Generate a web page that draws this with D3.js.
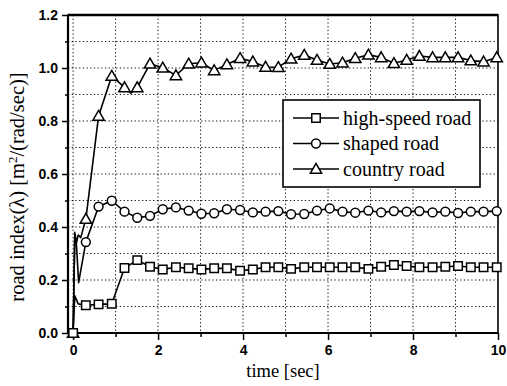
<!DOCTYPE html>
<html><head><meta charset="utf-8">
<script src="https://cdn.jsdelivr.net/npm/d3@7/dist/d3.min.js"></script>
<style>body{margin:0;background:#fff}svg{display:block}</style>
</head><body><svg id="chart" width="507" height="386"></svg>
<script>
// ---- data ----
const markerTime = [0, 0.3, 0.6, 0.91, 1.21, 1.51, 1.81, 2.11, 2.42, 2.72, 3.02, 3.32, 3.62, 3.93, 4.23, 4.53, 4.83,
  5.13, 5.44, 5.74, 6.04, 6.34, 6.64, 6.95, 7.25, 7.55, 7.85, 8.15, 8.46, 8.76, 9.06, 9.36, 9.66, 9.97];
const highSpeedRoad = [0, 0.105, 0.108, 0.11, 0.245, 0.275, 0.25, 0.24, 0.248, 0.244, 0.24, 0.244, 0.244, 0.235, 0.24, 0.248, 0.248,
  0.242, 0.248, 0.248, 0.248, 0.248, 0.248, 0.242, 0.25, 0.257, 0.253, 0.248, 0.248, 0.25, 0.253, 0.248, 0.248, 0.248];
const shapedRoad = [0, 0.343, 0.477, 0.499, 0.458, 0.435, 0.442, 0.467, 0.474, 0.462, 0.45, 0.452, 0.467, 0.464, 0.455, 0.458, 0.46,
  0.448, 0.449, 0.462, 0.47, 0.458, 0.454, 0.462, 0.455, 0.46, 0.458, 0.46, 0.455, 0.458, 0.453, 0.458, 0.458, 0.46];
const countryRoad = [0, 0.43, 0.819, 0.97, 0.927, 0.927, 1.016, 1.001, 0.972, 1.016, 1.02, 0.991, 1.013, 1.037, 1.024, 1.004, 1.003,
  1.035, 1.049, 1.03, 1.015, 1.02, 1.037, 1.05, 1.04, 1.018, 1.03, 1.045, 1.04, 1.04, 1.04, 1.028, 1.024, 1.04];
// extra line-only samples (transients between markers)
const highSpeedExtraTime = [0.04, 0.12];
const highSpeedExtraValue = [0.14, 0.11];
const shapedExtraTime = [0.04, 0.08, 0.13];
const shapedExtraValue = [0.37, 0.33, 0.19];
const countryExtraTime = [0.04, 0.08, 0.12, 0.18, 1.36];
const countryExtraValue = [0.38, 0.34, 0.37, 0.36, 0.905];

const seriesNames = ["high-speed road", "shaped road", "country road"];
const seriesSymbols = ["square", "circle", "triangle"];
const xTickValues = [0, 2, 4, 6, 8, 10];
const xMinorTicks = [1, 3, 5, 7, 9];
const yTickValues = [0, 0.2, 0.4, 0.6, 0.8, 1.0, 1.2];
const yMinorTicks = [0.1, 0.3, 0.5, 0.7, 0.9, 1.1];
const xGrid = [1, 2, 3, 4, 5, 6, 7, 8, 9];
const yGrid = [0.1, 0.2, 0.3, 0.4, 0.5, 0.6, 0.7, 0.8, 0.9, 1.0, 1.1];

// ---- layout ----
const L = 68, R = 498, T = 15, B = 333;
const svg = d3.select("#chart");
const x = d3.scaleLinear().domain([-0.12, 10]).range([L, R]);
const y = d3.scaleLinear().domain([0, 1.2]).range([B, T]);

// grid
const grid = svg.append("g").attr("stroke", "#111").attr("stroke-width", 1).attr("stroke-dasharray", "1.3,2.4");
grid.selectAll("line.gx").data(xGrid).join("line")
  .attr("x1", d => x(d)).attr("x2", d => x(d)).attr("y1", T).attr("y2", B);
grid.selectAll("line.gy").data(yGrid).join("line")
  .attr("y1", d => y(d)).attr("y2", d => y(d)).attr("x1", L).attr("x2", R);
grid.append("line").attr("x1", x(0)).attr("x2", x(0)).attr("y1", T).attr("y2", B);

// axes
const fmt = d3.format(".1f");
svg.append("g").attr("transform", `translate(${L},0)`)
  .call(d3.axisLeft(y).tickValues(yTickValues).tickFormat(fmt).tickSize(6).tickPadding(4));
svg.append("g").attr("transform", `translate(${L},0)`)
  .call(d3.axisLeft(y).tickValues(yMinorTicks).tickFormat("").tickSize(3)).select(".domain").remove();
svg.append("g").attr("transform", `translate(0,${B})`)
  .call(d3.axisBottom(x).tickValues(xTickValues).tickFormat(d3.format("d")).tickSize(7).tickPadding(5));
svg.append("g").attr("transform", `translate(0,${B})`)
  .call(d3.axisBottom(x).tickValues(xMinorTicks).tickFormat("").tickSize(4)).select(".domain").remove();
svg.selectAll(".tick line").attr("stroke", "#000").attr("stroke-width", 1.5);
svg.selectAll(".domain").remove();
svg.selectAll(".tick text").attr("font-family", "'Liberation Sans', Arial, sans-serif")
  .attr("font-size", 14).attr("font-weight", "bold").attr("fill", "#000");

// frame
svg.append("rect").attr("x", L).attr("y", T).attr("width", R - L).attr("height", B - T)
  .attr("fill", "none").attr("stroke", "#000").attr("stroke-width", 1.6);
svg.append("line").attr("x1", L).attr("x2", R).attr("y1", T).attr("y2", T).attr("stroke", "#000").attr("stroke-width", 2.4);
svg.append("line").attr("x1", L).attr("x2", L).attr("y1", T).attr("y2", B).attr("stroke", "#000").attr("stroke-width", 2.2);
svg.append("line").attr("x1", L).attr("x2", R).attr("y1", B).attr("y2", B).attr("stroke", "#000").attr("stroke-width", 2.2);

// series
function build(vals, et, ev) {
  const pts = markerTime.map((t, i) => ({t, v: vals[i], m: true}));
  et.forEach((t, i) => pts.push({t, v: ev[i], m: false}));
  pts.sort((a, b) => a.t - b.t);
  return pts;
}
const series = [
  {name: seriesNames[0], sym: seriesSymbols[0], pts: build(highSpeedRoad, highSpeedExtraTime, highSpeedExtraValue)},
  {name: seriesNames[1], sym: seriesSymbols[1], pts: build(shapedRoad, shapedExtraTime, shapedExtraValue)},
  {name: seriesNames[2], sym: seriesSymbols[2], pts: build(countryRoad, countryExtraTime, countryExtraValue)}
];
const symGen = {
  square: d3.symbol().type(d3.symbolSquare).size(72),
  circle: d3.symbol().type(d3.symbolCircle).size(62),
  triangle: d3.symbol().type(d3.symbolTriangle).size(56)
};
const line = d3.line().x(d => x(d.t)).y(d => y(d.v));
const plot = svg.append("g");
series.slice().reverse().forEach(s => {
  const g = plot.append("g");
  g.append("path").attr("d", line(s.pts)).attr("fill", "none").attr("stroke", "#000").attr("stroke-width", 1.6)
    .attr("stroke-linejoin", "round");
  g.selectAll("path.m").data(s.pts.filter(p => p.m)).join("path").attr("class", "m")
    .attr("d", symGen[s.sym]())
    .attr("transform", p => `translate(${x(p.t)},${y(p.v) + (s.sym === "triangle" ? 1 : 0)})`)
    .attr("fill", "#fff").attr("stroke", "#000").attr("stroke-width", 1.5);
});

// legend
const lg = svg.append("g");
lg.append("rect").attr("x", 283).attr("y", 100).attr("width", 197).attr("height", 87)
  .attr("fill", "#fff").attr("stroke", "#000").attr("stroke-width", 1.6);
const rowY = d3.scalePoint().domain(seriesNames).range([118, 169]);
series.forEach(s => {
  const ry = rowY(s.name);
  lg.append("line").attr("x1", 293).attr("x2", 339).attr("y1", ry).attr("y2", ry).attr("stroke", "#000").attr("stroke-width", 1.6);
  lg.append("path").attr("d", symGen[s.sym]()).attr("transform", `translate(316,${ry + (s.sym === "triangle" ? 1 : 0)})`)
    .attr("fill", "#fff").attr("stroke", "#000").attr("stroke-width", 1.5);
  lg.append("text").attr("x", 343).attr("y", ry).attr("dy", "0.33em").text(s.name)
    .attr("font-family", "'Liberation Serif', 'Times New Roman', serif").attr("font-size", 20).attr("fill", "#000");
});

// axis titles
svg.append("text").attr("x", 283).attr("y", 377).attr("text-anchor", "middle")
  .attr("font-family", "'Liberation Serif', 'Times New Roman', serif").attr("font-size", 18.5).text("time [sec]");
const yl = svg.append("text").attr("transform", "translate(24,187) rotate(-90)").attr("text-anchor", "middle")
  .attr("font-family", "'Liberation Serif', 'Times New Roman', serif").attr("font-size", 20.5);
yl.append("tspan").text("road index(λ) [m");
yl.append("tspan").attr("dy", -7).attr("font-size", 13).text("2");
yl.append("tspan").attr("dy", 7).text("/(rad/sec)]");
</script></body></html>
